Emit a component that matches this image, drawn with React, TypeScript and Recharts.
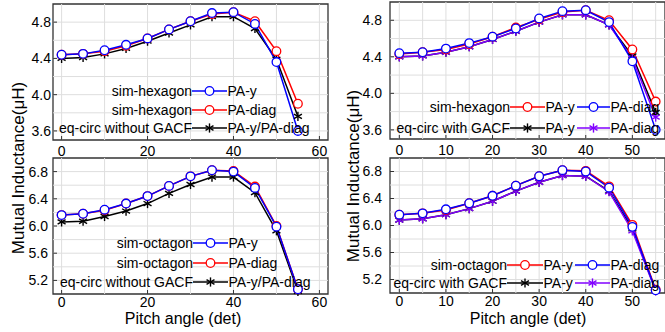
import React from "react";
import { LineChart, Line, XAxis, YAxis, ReferenceLine, ReferenceArea } from "recharts";

const ANGLES = [0, 5, 10, 15, 20, 25, 30, 35, 40, 45, 50, 55];

// top-left: hexagon, eq-circ without GACF
const TL_SIM_Y = [4.44, 4.45, 4.49, 4.55, 4.62, 4.72, 4.81, 4.9, 4.91, 4.78, 4.36, 3.6];
const TL_SIM_DIAG = [4.44, 4.45, 4.48, 4.54, 4.62, 4.72, 4.81, 4.89, 4.91, 4.81, 4.48, 3.9];
const TL_EQ = [4.4, 4.41, 4.45, 4.51, 4.59, 4.68, 4.77, 4.86, 4.86, 4.73, 4.39, 3.76];

// top-right: hexagon, eq-circ with GACF
const TR_SIM_Y = [4.43, 4.45, 4.48, 4.54, 4.62, 4.72, 4.81, 4.89, 4.91, 4.8, 4.48, 3.91];
const TR_SIM_DIAG = [4.44, 4.45, 4.49, 4.55, 4.62, 4.71, 4.82, 4.9, 4.91, 4.78, 4.35, 3.6];
const TR_EQ_Y = [4.4, 4.41, 4.45, 4.51, 4.59, 4.68, 4.78, 4.86, 4.86, 4.75, 4.41, 3.79];
const TR_EQ_DIAG = [4.4, 4.41, 4.45, 4.51, 4.59, 4.68, 4.78, 4.86, 4.86, 4.75, 4.38, 3.74];

// bottom-left: octagon, eq-circ without GACF
const BL_SIM_Y = [6.16, 6.18, 6.24, 6.33, 6.44, 6.59, 6.73, 6.82, 6.8, 6.56, 5.99, 5.07];
const BL_SIM_DIAG = [6.16, 6.18, 6.23, 6.33, 6.44, 6.59, 6.73, 6.82, 6.81, 6.58, 6.0, 5.07];
const BL_EQ = [6.06, 6.07, 6.14, 6.22, 6.33, 6.48, 6.61, 6.72, 6.72, 6.49, 5.93, 5.04];

// bottom-right: octagon, eq-circ with GACF
const BR_SIM_Y = [6.16, 6.18, 6.23, 6.33, 6.44, 6.59, 6.73, 6.82, 6.81, 6.58, 6.01, 5.05];
const BR_SIM_DIAG = [6.16, 6.18, 6.24, 6.33, 6.44, 6.59, 6.73, 6.82, 6.8, 6.56, 5.98, 5.04];
const BR_EQ_Y = [6.08, 6.1, 6.16, 6.25, 6.36, 6.51, 6.64, 6.74, 6.73, 6.51, 5.95, 5.04];
const BR_EQ_DIAG = [6.08, 6.1, 6.16, 6.25, 6.36, 6.51, 6.64, 6.74, 6.73, 6.5, 5.92, 5.03];

const LEFT_X_TICKS = [0, 20, 40, 60];
const LEFT_X_GRID = [0, 10, 20, 30, 40, 50, 60];
const RIGHT_X_TICKS = [0, 10, 20, 30, 40, 50];
const RIGHT_X_GRID = [0, 5, 10, 15, 20, 25, 30, 35, 40, 45, 50, 55];
const HEX_Y_TICKS = [3.6, 4.0, 4.4, 4.8];
const HEX_Y_GRID = [3.6, 3.8, 4.0, 4.2, 4.4, 4.6, 4.8];
const OCT_Y_TICKS = [5.2, 5.6, 6.0, 6.4, 6.8];
const OCT_Y_GRID = [5.2, 5.4, 5.6, 5.8, 6.0, 6.2, 6.4, 6.6, 6.8];

const Y_TITLE = "Mutual Inductance(μH)";
const X_TITLE = "Pitch angle (det)";

// no serif face renders here, so use Arial-metric Liberation Sans at slightly smaller sizes
const FONT = "'Liberation Sans', Arial, sans-serif";
const BLUE = "#0000ff";
const RED = "#ff0000";
const BLACK = "#000000";
const PURPLE = "#8000ff";

type Marker = "circle" | "star";
type Series = { key: string; values: number[]; color: string; marker: Marker };

function markerShape(marker: Marker, color: string, cx: number, cy: number, k: string) {
  if (marker === "circle") {
    return <circle key={k} cx={cx} cy={cy} r={4.3} fill="#fff" stroke={color} strokeWidth={1.3} />;
  }
  const r = 4.6;
  const dx = r * 0.866;
  const dy = r * 0.5;
  return (
    <g key={k} stroke={color} strokeWidth={1.4}>
      <line x1={cx} y1={cy - r} x2={cx} y2={cy + r} />
      <line x1={cx - dx} y1={cy - dy} x2={cx + dx} y2={cy + dy} />
      <line x1={cx - dx} y1={cy + dy} x2={cx + dx} y2={cy - dy} />
    </g>
  );
}

function makeDot(marker: Marker, color: string) {
  return (props: any) => {
    const { cx, cy, index } = props;
    if (cx == null || cy == null) return <g key={`e${index}`} />;
    return markerShape(marker, color, cx, cy, `d${index}`);
  };
}

interface PanelProps {
  left: number;
  top: number;
  width: number;
  height: number;
  marginTop: number;
  marginRight: number;
  yAxisWidth: number;
  xAxisHeight: number;
  xDomain: [number, number];
  xTicks: number[];
  xGrid: number[];
  yDomain: [number, number];
  yTicks: number[];
  yGrid: number[];
  xTickMargin: number;
  yTickMargin: number;
  series: Series[];
}

function Panel(p: PanelProps) {
  const data = ANGLES.map((a, i) => {
    const row: Record<string, number> = { angle: a };
    p.series.forEach((s) => (row[s.key] = s.values[i]));
    return row;
  });
  const tickStyle = { fontSize: 14, fill: "#000", fontFamily: FONT };
  return (
    <div style={{ position: "absolute", left: p.left, top: p.top }}>
      <LineChart
        width={p.width}
        height={p.height}
        data={data}
        margin={{ top: p.marginTop, right: p.marginRight, left: 0, bottom: 0 }}
        style={{ fontFamily: FONT }}
      >
        <XAxis
          type="number"
          dataKey="angle"
          domain={p.xDomain}
          ticks={p.xTicks}
          height={p.xAxisHeight}
          axisLine={false}
          tickSize={-4}
          tickMargin={p.xTickMargin}
          tickLine={{ stroke: "#333" }}
          tick={tickStyle}
          interval={0}
        />
        <YAxis
          type="number"
          domain={p.yDomain}
          ticks={p.yTicks}
          width={p.yAxisWidth}
          axisLine={false}
          tickSize={-4}
          tickMargin={p.yTickMargin}
          tickLine={{ stroke: "#333" }}
          tick={tickStyle}
          tickFormatter={(v: number) => v.toFixed(1)}
          interval={0}
        />
        {p.xGrid.map((v) => (
          <ReferenceLine key={`gx${v}`} x={v} stroke="#dedede" strokeWidth={1} />
        ))}
        {p.yGrid.map((v) => (
          <ReferenceLine key={`gy${v}`} y={v} stroke="#dedede" strokeWidth={1} />
        ))}
        <ReferenceArea
          x1={p.xDomain[0]}
          x2={p.xDomain[1]}
          y1={p.yDomain[0]}
          y2={p.yDomain[1]}
          fill="none"
          fillOpacity={0}
          stroke="#333"
          strokeWidth={1.3}
        />
        {p.series.map((s) => (
          <Line
            key={s.key}
            type="linear"
            dataKey={s.key}
            stroke={s.color}
            strokeWidth={1.5}
            dot={makeDot(s.marker, s.color)}
            activeDot={false}
            isAnimationActive={false}
          />
        ))}
      </LineChart>
    </div>
  );
}

type LegendItem = { color: string; marker: Marker; x1: number; x2: number; text: string };
type LegendRow = { y: number; label: string; labelEnd: number; items: LegendItem[] };

const LEGENDS: LegendRow[] = [
  { y: 91, label: "sim-hexagon", labelEnd: 192, items: [{ color: BLUE, marker: "circle", x1: 192, x2: 227, text: "PA-y" }] },
  { y: 110, label: "sim-hexagon", labelEnd: 192, items: [{ color: RED, marker: "circle", x1: 192, x2: 227, text: "PA-diag" }] },
  { y: 128, label: "eq-circ without GACF", labelEnd: 192, items: [{ color: BLACK, marker: "star", x1: 192, x2: 227, text: "PA-y/PA-diag" }] },
  {
    y: 107, label: "sim-hexagon", labelEnd: 510,
    items: [
      { color: RED, marker: "circle", x1: 510, x2: 545, text: "PA-y" },
      { color: BLUE, marker: "circle", x1: 577, x2: 610, text: "PA-diag" },
    ],
  },
  {
    y: 128, label: "eq-circ with GACF", labelEnd: 510,
    items: [
      { color: BLACK, marker: "star", x1: 510, x2: 545, text: "PA-y" },
      { color: PURPLE, marker: "star", x1: 577, x2: 610, text: "PA-diag" },
    ],
  },
  { y: 243, label: "sim-octagon", labelEnd: 193, items: [{ color: BLUE, marker: "circle", x1: 193, x2: 228, text: "PA-y" }] },
  { y: 263, label: "sim-octagon", labelEnd: 193, items: [{ color: RED, marker: "circle", x1: 193, x2: 228, text: "PA-diag" }] },
  { y: 282, label: "eq-circ without GACF", labelEnd: 193, items: [{ color: BLACK, marker: "star", x1: 193, x2: 228, text: "PA-y/PA-diag" }] },
  {
    y: 265, label: "sim-octagon", labelEnd: 507,
    items: [
      { color: RED, marker: "circle", x1: 507, x2: 543, text: "PA-y" },
      { color: BLUE, marker: "circle", x1: 575, x2: 610, text: "PA-diag" },
    ],
  },
  {
    y: 283, label: "eq-circ with GACF", labelEnd: 507,
    items: [
      { color: BLACK, marker: "star", x1: 507, x2: 543, text: "PA-y" },
      { color: PURPLE, marker: "star", x1: 575, x2: 610, text: "PA-diag" },
    ],
  },
];

function Overlay() {
  return (
    <svg
      width={665}
      height={332}
      style={{ position: "absolute", left: 0, top: 0, pointerEvents: "none", fontFamily: FONT }}
    >
      {LEGENDS.map((row, i) => (
        <g key={i}>
          <text x={row.labelEnd} y={row.y + 5} fontSize={14} textAnchor="end" fill="#000">
            {row.label}
          </text>
          {row.items.map((it, j) => (
            <g key={j}>
              <line x1={it.x1} y1={row.y} x2={it.x2} y2={row.y} stroke={it.color} strokeWidth={1.5} />
              {markerShape(it.marker, it.color, (it.x1 + it.x2) / 2, row.y, `m${j}`)}
              <text x={it.x2 + 0.5} y={row.y + 5} fontSize={14} fill="#000">
                {it.text}
              </text>
            </g>
          ))}
        </g>
      ))}
      <text x={20} y={168} fontSize={17} textAnchor="middle" dominantBaseline="middle" transform="rotate(-90 20 168)">
        {Y_TITLE}
      </text>
      <text x={355} y={176} fontSize={17} textAnchor="middle" dominantBaseline="middle" transform="rotate(-90 355 176)">
        {Y_TITLE}
      </text>
      <text x={183} y={324} fontSize={16} textAnchor="middle">
        {X_TITLE}
      </text>
      <text x={528} y={324} fontSize={16} textAnchor="middle">
        {X_TITLE}
      </text>
    </svg>
  );
}

export default function App() {
  return (
    <div
      style={{
        position: "absolute",
        left: 0,
        top: 0,
        width: 665,
        height: 332,
        overflow: "hidden",
        background: "#fff",
        fontFamily: FONT,
      }}
    >
      <Panel
        left={0}
        top={0}
        width={340}
        height={160}
        marginTop={4}
        marginRight={12}
        yAxisWidth={53}
        xAxisHeight={20}
        xDomain={[-2, 62]}
        xTicks={LEFT_X_TICKS}
        xGrid={LEFT_X_GRID}
        yDomain={[3.5, 5.0]}
        yTicks={HEX_Y_TICKS}
        yGrid={HEX_Y_GRID}
        xTickMargin={10}
        yTickMargin={6}
        series={[
          { key: "eq", values: TL_EQ, color: BLACK, marker: "star" },
          { key: "diag", values: TL_SIM_DIAG, color: RED, marker: "circle" },
          { key: "y", values: TL_SIM_Y, color: BLUE, marker: "circle" },
        ]}
      />
      <Panel
        left={330}
        top={0}
        width={335}
        height={160}
        marginTop={2}
        marginRight={0}
        yAxisWidth={60}
        xAxisHeight={21}
        xDomain={[-2, 57]}
        xTicks={RIGHT_X_TICKS}
        xGrid={RIGHT_X_GRID}
        yDomain={[3.5, 5.0]}
        yTicks={HEX_Y_TICKS}
        yGrid={HEX_Y_GRID}
        xTickMargin={10}
        yTickMargin={12}
        series={[
          { key: "eqy", values: TR_EQ_Y, color: BLACK, marker: "star" },
          { key: "eqdiag", values: TR_EQ_DIAG, color: PURPLE, marker: "star" },
          { key: "y", values: TR_SIM_Y, color: RED, marker: "circle" },
          { key: "diag", values: TR_SIM_DIAG, color: BLUE, marker: "circle" },
        ]}
      />
      <Panel
        left={0}
        top={150}
        width={340}
        height={182}
        marginTop={8}
        marginRight={12}
        yAxisWidth={53}
        xAxisHeight={38}
        xDomain={[-2, 62]}
        xTicks={LEFT_X_TICKS}
        xGrid={LEFT_X_GRID}
        yDomain={[5.0, 7.0]}
        yTicks={OCT_Y_TICKS}
        yGrid={OCT_Y_GRID}
        xTickMargin={7}
        yTickMargin={9}
        series={[
          { key: "eq", values: BL_EQ, color: BLACK, marker: "star" },
          { key: "diag", values: BL_SIM_DIAG, color: RED, marker: "circle" },
          { key: "y", values: BL_SIM_Y, color: BLUE, marker: "circle" },
        ]}
      />
      <Panel
        left={330}
        top={150}
        width={335}
        height={182}
        marginTop={8}
        marginRight={0}
        yAxisWidth={60}
        xAxisHeight={39}
        xDomain={[-2, 57]}
        xTicks={RIGHT_X_TICKS}
        xGrid={RIGHT_X_GRID}
        yDomain={[5.0, 7.0]}
        yTicks={OCT_Y_TICKS}
        yGrid={OCT_Y_GRID}
        xTickMargin={7}
        yTickMargin={12}
        series={[
          { key: "eqy", values: BR_EQ_Y, color: BLACK, marker: "star" },
          { key: "eqdiag", values: BR_EQ_DIAG, color: PURPLE, marker: "star" },
          { key: "y", values: BR_SIM_Y, color: RED, marker: "circle" },
          { key: "diag", values: BR_SIM_DIAG, color: BLUE, marker: "circle" },
        ]}
      />
      <Overlay />
    </div>
  );
}
